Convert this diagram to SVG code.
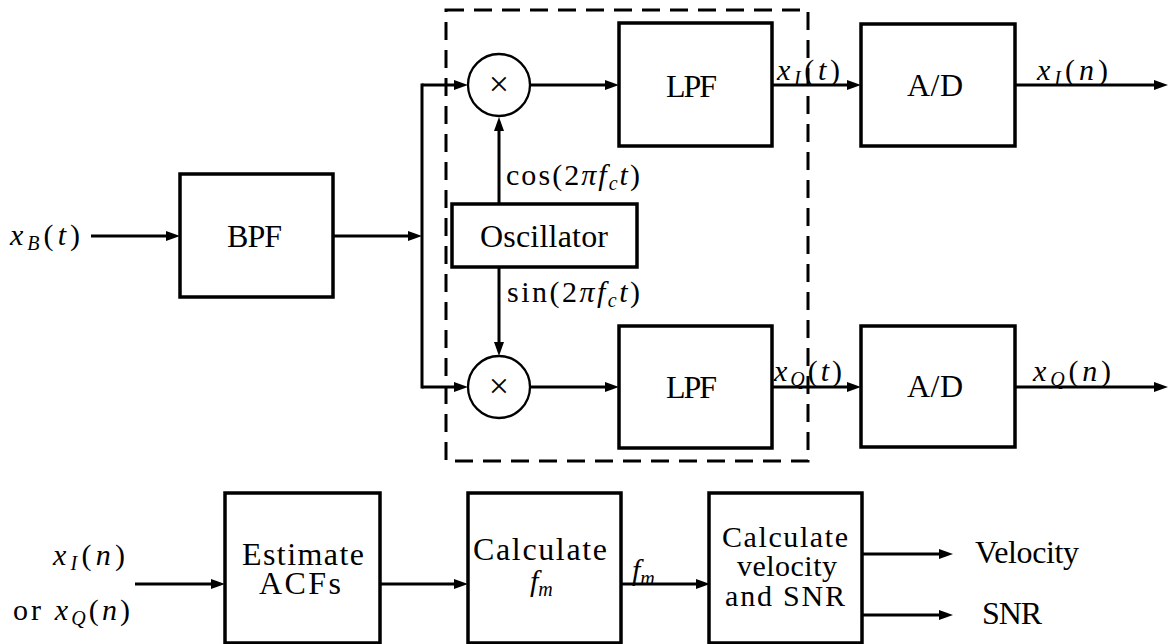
<svg xmlns="http://www.w3.org/2000/svg" width="1170" height="644" viewBox="0 0 1170 644">
<style>
.box{fill:#fff;stroke:#000;stroke-width:3.5}
.circ{fill:#fff;stroke:#000;stroke-width:2.3}
.ln{fill:none;stroke:#000;stroke-width:3}
.dash{fill:none;stroke:#000;stroke-width:3;stroke-dasharray:18 10}
text{font-family:"Liberation Serif","DejaVu Serif",serif;fill:#000}
.t{font-size:32px}
.s{font-size:30px}
.m{font-size:30px}
.x{font-size:36px;font-weight:300}
.i{font-style:italic}
.sub{font-size:20px}
</style>
<defs>
<marker id="ah" markerUnits="userSpaceOnUse" markerWidth="15" markerHeight="11" refX="4" refY="5.5" orient="auto">
<path d="M0,0.5 L14,5.5 L0,10.5 z" fill="#000"/>
</marker>
</defs>
<rect class="dash" x="446" y="10" width="362" height="451"/>
<g id="connectors">
<line class="ln" x1="91" y1="236" x2="170" y2="236" marker-end="url(#ah)"/>
<line class="ln" x1="333" y1="236" x2="412" y2="236" marker-end="url(#ah)"/>
<path class="ln" d="M422,85 V387" stroke-linecap="square"/>
<line class="ln" x1="422" y1="85" x2="458" y2="85" marker-end="url(#ah)"/>
<line class="ln" x1="422" y1="387" x2="458" y2="387" marker-end="url(#ah)"/>
<line class="ln" x1="530" y1="85" x2="609" y2="85" marker-end="url(#ah)"/>
<line class="ln" x1="530" y1="387" x2="609" y2="387" marker-end="url(#ah)"/>
<line class="ln" x1="499" y1="204" x2="499" y2="127" marker-end="url(#ah)"/>
<line class="ln" x1="499" y1="267" x2="499" y2="346" marker-end="url(#ah)"/>
<line class="ln" x1="772" y1="85" x2="851" y2="85" marker-end="url(#ah)"/>
<line class="ln" x1="772" y1="387" x2="851" y2="387" marker-end="url(#ah)"/>
<line class="ln" x1="1015" y1="85" x2="1158" y2="85" marker-end="url(#ah)"/>
<line class="ln" x1="1015" y1="387" x2="1158" y2="387" marker-end="url(#ah)"/>
<line class="ln" x1="135" y1="584" x2="215" y2="584" marker-end="url(#ah)"/>
<line class="ln" x1="380" y1="584" x2="458" y2="584" marker-end="url(#ah)"/>
<line class="ln" x1="621" y1="584" x2="700" y2="584" marker-end="url(#ah)"/>
<line class="ln" x1="862" y1="554" x2="943" y2="554" marker-end="url(#ah)"/>
<line class="ln" x1="862" y1="615" x2="943" y2="615" marker-end="url(#ah)"/>
</g>
<g id="bpf"><rect class="box" x="180" y="174" width="153" height="123"/><text class="t" x="227" y="247" textLength="55">BPF</text></g>
<g id="mixI"><circle class="circ" cx="499" cy="85" r="31"/><text class="x" x="499" y="96" text-anchor="middle">×</text></g>
<g id="mixQ"><circle class="circ" cx="499" cy="387" r="31"/><text class="x" x="499" y="398" text-anchor="middle">×</text></g>
<g id="lpfI"><rect class="box" x="619" y="23" width="153" height="123"/><text class="t" x="666" y="97" textLength="51">LPF</text></g>
<g id="lpfQ"><rect class="box" x="619" y="326" width="153" height="122"/><text class="t" x="666" y="398" textLength="51">LPF</text></g>
<g id="osc"><rect class="box" x="452" y="204" width="185" height="63"/><text class="t" x="480" y="247" textLength="128">Oscillator</text></g>
<g id="adI"><rect class="box" x="861" y="24" width="154" height="122"/><text class="t" x="907" y="96" textLength="56">A/D</text></g>
<g id="adQ"><rect class="box" x="861" y="326" width="154" height="121"/><text class="t" x="907" y="397" textLength="56">A/D</text></g>
<g id="acf"><rect class="box" x="225" y="493" width="155" height="150"/><text class="t" x="242" y="565" textLength="122">Estimate</text><text class="t" x="259" y="594" textLength="82">ACFs</text></g>
<g id="calcfm"><rect class="box" x="468" y="493" width="153" height="150"/><text class="t" x="473" y="560" textLength="134">Calculate</text><text class="m" x="530" y="591"><tspan class="i">f</tspan><tspan class="i sub" dy="5">m</tspan></text></g>
<g id="calcv"><rect class="box" x="709" y="493" width="153" height="150"/><text class="s" x="722" y="547" textLength="126">Calculate</text><text class="s" x="737" y="576" textLength="100">velocity</text><text class="s" x="725" y="606" textLength="120">and SNR</text></g>
<g id="labels">
<text class="m" x="10" y="245" textLength="70"><tspan class="i">x</tspan><tspan class="i sub" dy="5">B</tspan><tspan dy="-5">(</tspan><tspan class="i">t</tspan>)</text>
<text class="m" x="506" y="185" textLength="134">cos(2<tspan class="i">πf</tspan><tspan class="i sub" dy="5">c</tspan><tspan class="i" dy="-5">t</tspan>)</text>
<text class="m" x="507" y="302" textLength="133">sin(2<tspan class="i">πf</tspan><tspan class="i sub" dy="5">c</tspan><tspan class="i" dy="-5">t</tspan>)</text>
<text class="m" x="777" y="80" textLength="63"><tspan class="i">x</tspan><tspan class="i sub" dy="5">I</tspan><tspan dy="-5">(</tspan><tspan class="i">t</tspan>)</text>
<text class="m" x="774" y="381" textLength="68"><tspan class="i">x</tspan><tspan class="i sub" dy="5">Q</tspan><tspan dy="-5">(</tspan><tspan class="i">t</tspan>)</text>
<text class="m" x="1037" y="80" textLength="71"><tspan class="i">x</tspan><tspan class="i sub" dy="5">I</tspan><tspan dy="-5">(</tspan><tspan class="i">n</tspan>)</text>
<text class="m" x="1033" y="381" textLength="78"><tspan class="i">x</tspan><tspan class="i sub" dy="5">Q</tspan><tspan dy="-5">(</tspan><tspan class="i">n</tspan>)</text>
<text class="m" x="53" y="565" textLength="72"><tspan class="i">x</tspan><tspan class="i sub" dy="5">I</tspan><tspan dy="-5">(</tspan><tspan class="i">n</tspan>)</text>
<text class="m" x="13" y="620" textLength="117">or <tspan class="i">x</tspan><tspan class="i sub" dy="5">Q</tspan><tspan dy="-5">(</tspan><tspan class="i">n</tspan>)</text>
<text class="m" x="632" y="580"><tspan class="i">f</tspan><tspan class="i sub" dy="5">m</tspan></text>
<text class="t" x="975" y="563" textLength="104">Velocity</text>
<text class="t" x="982" y="624" textLength="60">SNR</text>
</g>
</svg>
